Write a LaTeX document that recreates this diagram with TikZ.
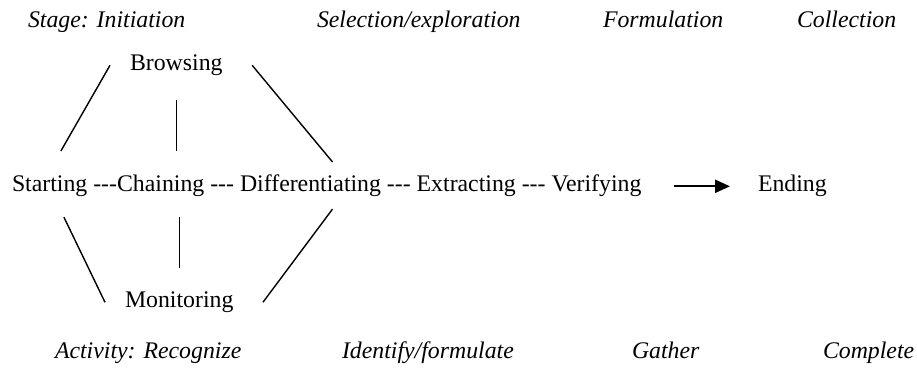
\documentclass[tikz,border=0pt]{standalone}
\usepackage{fontspec}
\setmainfont{Liberation Serif}
\usepackage{tikz}
\usetikzlibrary{positioning, arrows.meta}
\newcommand{\tridash}{-\kern0pt-\kern0pt-}
\tikzstyle{word} = [inner sep=0pt, outer sep=0pt, text height=8.3pt, text depth=2.6pt, anchor=base west, font=\fontsize{11.9}{14}\selectfont]
\tikzstyle{phase} = [word, font=\fontsize{11.9}{14}\selectfont\itshape]
\tikzstyle{link} = [line width=0.7pt]
\tikzstyle{arrow} = [line width=1.2pt, -{Triangle[length=7.5pt, width=6.5pt]}]
\begin{document}
\begin{tikzpicture}[x=0.5pt, y=0.5pt]
	\useasboundingbox (0,0) rectangle (917,369);

		% Draw the nodes
		\node (stage1) [phase] at (28,341) {Stage: Initiation};
		\node (stage2) [phase] at (317,341) {Selection/exploration};
		\node (stage3) [phase] at (603,341) {Formulation};
		\node (stage4) [phase] at (797,341) {Collection};
		\node (brow) [word] at (130,298) {Browsing};
		\node (start) [word] at (12,177) {Starting};
		\node (dash1) [word, base right=0pt of start] {\ \tridash};
		\node (chain) [word, base right=0pt of dash1] {Chaining};
		\node (dash2) [word, base right=0pt of chain] {\ \tridash\ \null};
		\node (diff) [word, base right=0pt of dash2] {Differentiating};
		\node (dash3) [word, base right=0pt of diff] {\ \tridash\ \null};
		\node (extr) [word, base right=0pt of dash3] {Extracting};
		\node (dash4) [word, base right=0pt of extr] {\ \tridash\ \null};
		\node (veri) [word, base right=0pt of dash4] {Verifying};
		\node (ending) [word] at (758,177) {Ending};
		\node (moni) [word] at (125,61) {Monitoring};
		\node (act1) [phase] at (55,10) {Activity: Recognize};
		\node (act2) [phase] at (342,10) {Identify/formulate};
		\node (act3) [phase] at (632,10) {Gather};
		\node (act4) [phase] at (823,10) {Complete};

		% Draw the lines
		\draw [link] ([xshift=5.6pt, yshift=12.2pt]start.north) -- ([xshift=-10pt]brow.west);
		\draw [link, shorten <=12pt, shorten >=12.2pt] (brow.south) -- (brow.south |- chain.north);
		\draw [link] ([xshift=14.8pt]brow.east) -- ([xshift=11pt, yshift=6.7pt]diff.north);
		\draw [link] ([xshift=7.1pt, yshift=-9.95pt]start.south) -- ([xshift=-10pt]moni.west);
		\draw [link, shorten <=10pt, shorten >=11.7pt] (chain.south -| moni.north) -- (moni.north);
		\draw [link] ([xshift=11pt, yshift=-5.95pt]diff.south) -- ([xshift=14.75pt]moni.east);
		\draw [arrow, shorten <=16.5pt, shorten >=14pt] (veri) -- (ending);

	\end{tikzpicture}
\end{document}
